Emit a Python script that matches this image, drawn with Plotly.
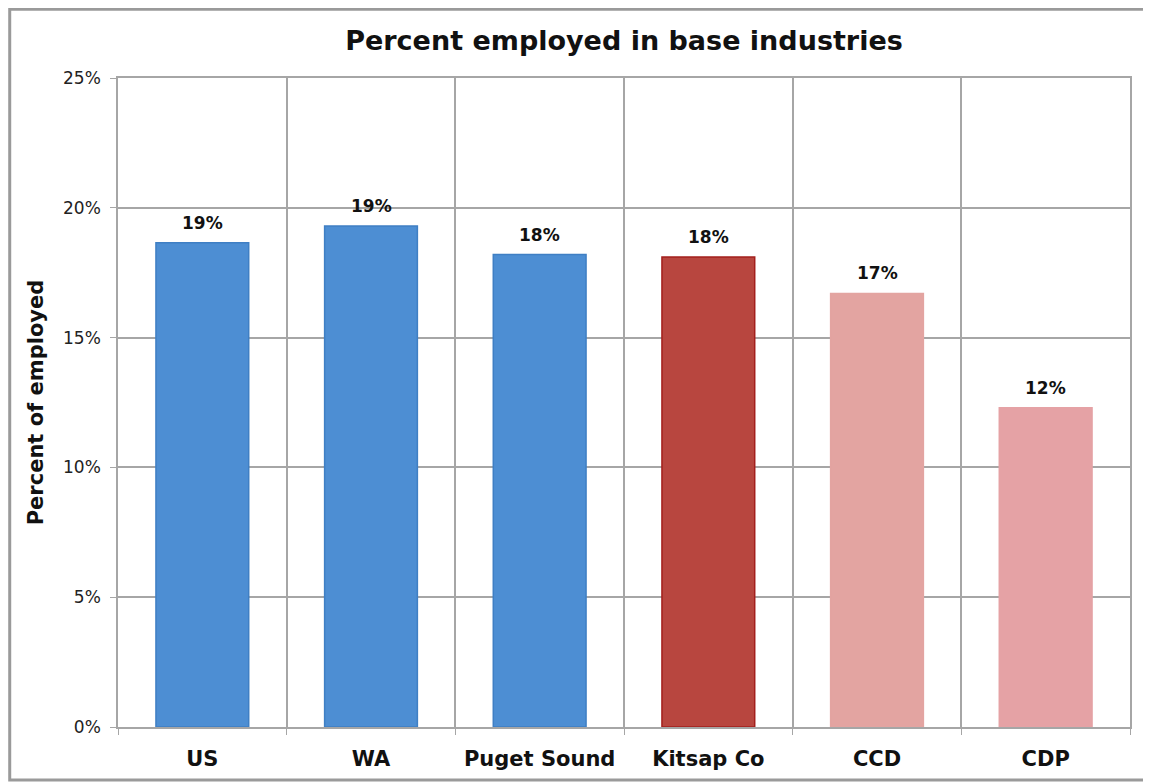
import plotly.graph_objects as go

regions = ['US', 'WA', 'Puget Sound', 'Kitsap Co', 'CCD', 'CDP']
pct_employed = [18.65, 19.3, 18.2, 18.1, 16.7, 12.3]
bar_labels = ['19%', '19%', '18%', '18%', '17%', '12%']
bar_colors = ['#4d8ed3', '#4d8ed3', '#4d8ed3', '#b8463f', '#e3a4a1', '#e5a2a5']
bar_edges = ['#3f7fc4', '#3f7fc4', '#3f7fc4', '#a31f1c', '#e3a4a1', '#e5a2a5']
y_ticks = [0, 5, 10, 15, 20, 25]
y_tick_text = ['0%', '5%', '10%', '15%', '20%', '25%']

font = 'DejaVu Sans, sans-serif'

fig = go.Figure()
fig.add_trace(go.Bar(
    x=regions,
    y=pct_employed,
    marker=dict(color=bar_colors, line=dict(color=bar_edges, width=1.5)),
))

# value labels sit a bit higher above the bars than plotly's own outside text
for region, val, lab in zip(regions, pct_employed, bar_labels):
    fig.add_annotation(x=region, y=val, text='<b>' + lab + '</b>',
                       showarrow=False, yanchor='bottom', yshift=8,
                       font=dict(family=font, size=17, color='#111111'))

# the page sits 8px in from the window edge, so the figure is 8px smaller
fig.update_layout(
    width=1143, height=776,
    margin=dict(l=110, r=21, t=70, b=57),
    paper_bgcolor='white',
    plot_bgcolor='white',
    bargap=0.45,
    showlegend=False,
    title=dict(text='<b>Percent employed in base industries</b>',
               x=0.5, xref='paper', xanchor='center', y=0.958, yanchor='middle',
               font=dict(family=font, size=27, color='#111111')),
    xaxis=dict(
        tickson='boundaries', showgrid=True, gridcolor='#a6a6a6', gridwidth=1.5,
        ticks='outside', ticklen=6, tickcolor='#a6a6a6',
        showline=True, linecolor='#a6a6a6', linewidth=1.5, mirror=True,
        ticklabelstandoff=12,
        tickfont=dict(family=font, size=21, color='#111111', weight='bold'),
    ),
    yaxis=dict(
        range=[0, 25], tickvals=y_ticks, ticktext=y_tick_text,
        showgrid=True, gridcolor='#a6a6a6', gridwidth=1.5,
        ticks='outside', ticklen=6, tickcolor='#a6a6a6',
        showline=True, linecolor='#a6a6a6', linewidth=1.5, mirror=True,
        zeroline=False, ticklabelstandoff=6,
        tickfont=dict(family=font, size=17, color='#222222'),
        title=dict(text='<b>Percent of employed</b>', standoff=14,
                   font=dict(family=font, size=21, color='#111111')),
    ),
    shapes=[dict(type='rect', xref='paper', yref='paper',
                 x0=-0.107, x1=1.0178, y0=-0.0817, y1=1.106,
                 line=dict(color='#9a9a9a', width=3), layer='below')],
)

fig.write_html('out.html')
